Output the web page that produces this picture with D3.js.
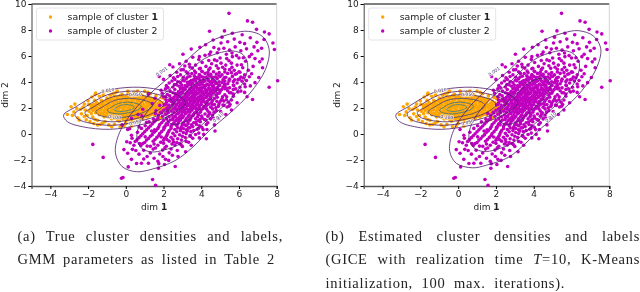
<!DOCTYPE html>
<html>
<head>
<meta charset="utf-8">
<script src="https://cdn.jsdelivr.net/npm/d3@7"></script>
<style>
  html, body { margin: 0; padding: 0; background: #fff; }
  svg { display: block; }
  text { font-family: "DejaVu Sans", sans-serif; }
</style>
</head>
<body>
<div id="container"></div>
<script>
// values, data coordinates of the two panels
var xTicks = [-4, -2, 0, 2, 4, 6, 8];
var yTicks = [-4, -2, 0, 2, 4, 6, 8, 10];
var legendNames = ["sample of cluster ", "sample of cluster "];
var legendNums = ["1", "2"];

var orangeSparse = [[-3.1,1.5],[-2.9,2.1],[-2.75,1.7],[-2.55,1.25],[-2.4,1.9],[-2.35,1.55],[-2.2,2.3],[-2.1,1.1],[-2,2.55],[-1.95,1.75],[-1.9,.95],[-1.8,2.85],[-1.75,1.3],[-1.7,.8],[-1.6,3.15],[-1.5,1.05],[-1.4,2.9],[-1.35,.75],[-1.2,3.0],[-1.1,.95],[-.95,3.3],[-.9,.7],[-.7,3.1],[-.6,.75],[-.45,3.3],[-.3,.55],[-.2,3.05],[0,.8],[.1,3.3],[.3,.6],[.45,3.2],[.6,.9],[.8,3.05],[1,3.3],[1.3,3.1],[1.5,1],[1.6,2.95],[1.85,1.25],[1.9,2.8],[2.1,1.55],[2.2,2.55],[2.35,1.9],[2.5,2.3],[-2.6,1.95],[-2.2,1.35],[-2.15,1.85],[-1.85,2.2],[-2.7,2.3],[-1.65,2.6],[-1.5,.7],[-.75,.55],[-2.83,1.43],[-2.47,1.07],[-2.27,2.07],[-1.97,2.27],[-1.83,1.57],[-1.63,3.03],[-2.05,1.42],[-1.62,1.12],[-1.23,.83],[-1.18,3.22],[-.83,2.98],[-.55,3.18],[-.1,.62],[.13,3.12],[.62,3.31],[1.17,3.2],[1.72,1.12],[2.03,2.72],[2.27,2.12]];
var orangeDense = [[-.6,2.9],[-.3,2.95],[0,2.88],[.3,2.93],[.6,2.86],[.9,2.9],[1.2,2.84],[-1,2.76],[-.75,2.72],[-.45,2.78],[-.15,2.73],[.15,2.77],[.45,2.72],[.75,2.75],[1.05,2.7],[1.35,2.74],[1.6,2.68],[-1.3,2.6],[-1.05,2.56],[-.8,2.6],[-.5,2.55],[-.2,2.6],[.1,2.56],[.4,2.6],[.7,2.55],[1,2.59],[1.3,2.54],[1.55,2.58],[1.8,2.52],[-1.55,2.44],[-1.3,2.4],[-1,2.44],[-.7,2.39],[-.4,2.43],[-.1,2.38],[.2,2.43],[.5,2.39],[.8,2.42],[1.1,2.38],[1.4,2.42],[1.7,2.37],[1.95,2.4],[-1.7,2.28],[-1.4,2.24],[-1.15,2.28],[-.85,2.23],[-.55,2.27],[-.25,2.22],[.05,2.27],[.35,2.23],[.65,2.27],[.95,2.22],[1.25,2.26],[1.55,2.22],[1.85,2.26],[2.1,2.2],[-1.8,2.12],[-1.55,2.08],[-1.25,2.12],[-.95,2.07],[-.65,2.11],[-.35,2.06],[-.05,2.11],[.25,2.07],[.55,2.1],[.85,2.06],[1.15,2.1],[1.45,2.06],[1.75,2.1],[2,2.04],[-1.85,1.96],[-1.6,1.92],[-1.3,1.96],[-1,1.91],[-.7,1.95],[-.4,1.9],[-.1,1.95],[.2,1.91],[.5,1.95],[.8,1.9],[1.1,1.94],[1.4,1.9],[1.7,1.94],[1.95,1.9],[-1.75,1.8],[-1.45,1.76],[-1.15,1.8],[-.85,1.75],[-.55,1.79],[-.25,1.74],[.05,1.79],[.35,1.75],[.65,1.79],[.95,1.74],[1.25,1.78],[1.55,1.74],[1.85,1.78],[-1.6,1.64],[-1.3,1.6],[-1,1.64],[-.7,1.59],[-.4,1.63],[-.1,1.58],[.2,1.63],[.5,1.59],[.8,1.63],[1.1,1.58],[1.4,1.62],[1.7,1.58],[-1.4,1.48],[-1.15,1.44],[-.85,1.48],[-.55,1.43],[-.25,1.47],[.05,1.42],[.35,1.47],[.65,1.43],[.95,1.47],[1.25,1.42],[1.5,1.46],[-1.15,1.32],[-.9,1.28],[-.6,1.32],[-.3,1.27],[0,1.31],[.3,1.26],[.6,1.31],[.9,1.27],[1.15,1.3],[-.75,1.15],[-.45,1.12],[-.15,1.16],[.15,1.1],[.45,1.15],[.75,1.11],[-.35,.98],[0,1],[.3,.95]];
var orangeFill = [[-.45,2.85],[-.15,2.82],[.15,2.85],[.45,2.8],[.75,2.83],[1.05,2.8],[-.9,2.66],[-.6,2.64],[-.3,2.68],[0,2.65],[.3,2.68],[.6,2.64],[.9,2.67],[1.2,2.63],[1.45,2.66],[-1.2,2.5],[-.9,2.48],[-.6,2.5],[-.3,2.47],[0,2.5],[.3,2.47],[.6,2.5],[.9,2.46],[1.2,2.49],[1.5,2.46],[-1.5,2.34],[-1.2,2.32],[-.9,2.34],[-.6,2.31],[-.3,2.34],[0,2.31],[.3,2.34],[.6,2.31],[.9,2.34],[1.2,2.3],[1.5,2.33],[1.8,2.3],[-1.6,2.18],[-1.3,2.16],[-1,2.18],[-.7,2.15],[-.4,2.18],[-.1,2.15],[.2,2.18],[.5,2.15],[.8,2.18],[1.1,2.15],[1.4,2.17],[1.7,2.15],[-1.7,2.02],[-1.4,2],[-1.1,2.02],[-.8,1.99],[-.5,2.02],[-.2,1.99],[.1,2.02],[.4,1.99],[.7,2.02],[1,1.99],[1.3,2.01],[1.6,1.99],[1.85,2.02],[-1.6,1.86],[-1.3,1.84],[-1,1.86],[-.7,1.83],[-.4,1.86],[-.1,1.83],[.2,1.86],[.5,1.83],[.8,1.86],[1.1,1.83],[1.4,1.85],[1.7,1.83],[-1.45,1.7],[-1.15,1.68],[-.85,1.7],[-.55,1.67],[-.25,1.7],[.05,1.67],[.35,1.7],[.65,1.67],[.95,1.7],[1.25,1.67],[1.55,1.69],[-1.25,1.54],[-1,1.52],[-.7,1.54],[-.4,1.51],[-.1,1.54],[.2,1.51],[.5,1.54],[.8,1.51],[1.1,1.54],[1.35,1.51],[-1,1.4],[-.75,1.37],[-.45,1.4],[-.15,1.36],[.15,1.39],[.45,1.36],[.75,1.39],[1.05,1.36],[-.6,1.22],[-.3,1.2],[0,1.23],[.3,1.19],[.6,1.22],[.9,1.18]];

var purpleOuter = [[5.47,9.28],[6.45,8.7],[6.72,8.6],[4.44,7.9],[6.93,8.05],[7.35,7.85],[7.6,7.7],[7.8,7],[7.88,6.5],[8.05,4.1],[7.6,3.6],[6.72,2.65],[5.1,7.45],[5.65,7.75],[5.05,7],[4.67,6.65],[5.4,7.1],[5.75,7.3],[6.05,7.05],[6.3,6.95],[6.6,7.4],[6.95,7.05],[7.2,6.6],[7,6.4],[6.8,6.7],[6.4,6.55],[6.1,6.4],[5.8,6.7],[5.5,6.45],[5.2,6.6],[4.85,6.25],[4.5,6.3],[4.2,6.05],[3.9,5.95],[3.55,5.9],[3.2,5.6],[2.85,5.4],[2.5,5.15],[6.55,5.95],[6.85,5.8],[7.1,5.55],[7.25,5.1],[6.75,5.2],[6.35,5.6],[6,5.85],[5.65,5.95],[5.35,5.8],[5,5.85],[4.7,5.7],[4.4,5.65],[4.05,5.5],[3.7,5.3],[3.4,5.15],[3.05,4.95],[2.7,4.75],[2.35,4.5],[2,4.2],[6.5,4.9],[6.2,5.1],[5.9,5.3],[5.6,5.45],[5.3,5.3],[5.05,5.45],[4.8,5.25],[4.55,5.4],[4.25,5.2],[3.95,5.05],[3.65,4.85],[3.3,4.65],[7.05,4.35],[6.85,3.95],[6.55,4.4],[6.3,4.55],[6.05,4.75],[5.75,4.9],[5.5,4.95],[6.3,3.2],[6.6,3.7],[5.9,2.4],[6.1,3.3],[5.6,1.85],[5.3,1.5],[4.9,1.2],[5.2,2.2],[5.7,2.9],[4.7,.7],[4.3,.35],[3.9,-.3],[-1.75,-.8],[-1.2,-1.8],[-.23,-3.4],[-.15,-3.35],[1.42,-3.5],[1.58,-3.95],[2.62,-2.5],[1.2,-2.25],[.83,-2.25],[.3,-1.95],[-.1,-1.2],[.05,-.6],[.3,-.1],[.1,.35],[2.05,-2.35],[1.7,-2.1]];
var purpleCore = [[3.9,5.02],[4.4,4.95],[4.9,5.05],[5.25,4.98],[2.9,4.55],[3.5,4.65],[3.9,4.58],[4.2,4.66],[4.5,4.6],[4.8,4.62],[5.1,4.55],[5.4,4.66],[5.8,4.6],[2.6,4.2],[3.2,4.25],[3.6,4.18],[3.85,4.28],[4.1,4.16],[4.35,4.24],[4.6,4.18],[4.85,4.26],[5.15,4.16],[5.5,4.22],[5.95,4.18],[6.4,4.12],[2.3,3.92],[2.9,3.95],[3.3,3.86],[3.55,3.94],[3.8,3.88],[4.05,3.96],[4.3,3.85],[4.55,3.93],[4.8,3.88],[5.1,3.95],[5.4,3.86],[5.9,3.92],[6.3,3.85],[2.5,3.62],[3,3.55],[3.25,3.66],[3.5,3.58],[3.7,3.64],[3.95,3.55],[4.15,3.63],[4.4,3.56],[4.6,3.65],[4.85,3.57],[5.15,3.62],[5.5,3.55],[6.05,3.6],[2.35,3.3],[2.8,3.26],[3.05,3.35],[3.3,3.25],[3.5,3.33],[3.7,3.27],[3.9,3.36],[4.1,3.25],[4.3,3.32],[4.5,3.26],[4.75,3.34],[5,3.27],[5.4,3.33],[5.95,3.24],[2.2,3.04],[2.65,2.98],[2.9,3.06],[3.15,2.96],[3.35,3.04],[3.55,2.98],[3.75,3.06],[3.95,2.96],[4.15,3.04],[4.35,2.97],[4.55,3.05],[4.8,2.97],[5.25,3.02],[5.7,3.08],[2.4,2.72],[2.7,2.66],[2.95,2.74],[3.15,2.67],[3.35,2.75],[3.55,2.66],[3.75,2.73],[3.95,2.67],[4.15,2.75],[4.4,2.66],[4.7,2.73],[5.1,2.68],[5.6,2.62],[2.15,2.42],[2.55,2.36],[2.8,2.44],[3,2.37],[3.2,2.45],[3.4,2.36],[3.6,2.43],[3.8,2.37],[4,2.45],[4.25,2.36],[4.55,2.42],[4.95,2.38],[5.45,2.44],[2.3,2.12],[2.6,2.06],[2.85,2.14],[3.05,2.07],[3.25,2.15],[3.45,2.06],[3.65,2.13],[3.9,2.07],[4.15,2.14],[4.5,2.06],[4.9,2.12],[2,1.82],[2.4,1.76],[2.7,1.84],[2.9,1.77],[3.1,1.85],[3.3,1.76],[3.5,1.83],[3.75,1.77],[4,1.84],[4.35,1.76],[4.8,1.8],[2.1,1.52],[2.45,1.46],[2.7,1.54],[2.95,1.47],[3.15,1.55],[3.35,1.46],[3.6,1.53],[3.85,1.47],[4.2,1.54],[4.6,1.46],[1.7,1.22],[2.15,1.16],[2.5,1.24],[2.75,1.17],[3,1.25],[3.2,1.16],[3.45,1.23],[3.7,1.17],[4.05,1.24],[4.5,1.16],[1.5,.92],[1.9,.86],[2.25,.94],[2.55,.87],[2.8,.95],[3.05,.86],[3.3,.93],[3.6,.87],[3.95,.94],[4.35,.86],[1.3,.62],[1.75,.56],[2.1,.64],[2.4,.57],[2.7,.65],[2.95,.56],[3.2,.63],[3.55,.57],[3.9,.64],[1.1,.32],[1.6,.26],[2,.34],[2.3,.27],[2.6,.35],[2.9,.26],[3.2,.33],[3.6,.27],[4.1,.34],[.9,.02],[1.4,-.05],[1.8,.04],[2.2,-.03],[2.5,.05],[2.85,-.06],[3.2,.03],[3.7,-.04],[.7,-.28],[1.2,-.35],[1.65,-.26],[2.05,-.34],[2.4,-.25],[2.75,-.36],[3.15,-.27],[3.55,-.33],[.5,-.58],[1,-.65],[1.45,-.56],[1.85,-.64],[2.3,-.55],[2.7,-.66],[3.2,-.57],[.8,-.88],[1.3,-.95],[1.7,-.86],[2.15,-.94],[2.6,-.85],[3,-.96],[.35,-1.18],[.95,-1.25],[1.45,-1.16],[1.95,-1.24],[2.4,-1.15],[.1,-1.48],[.7,-1.55],[1.3,-1.46],[1.8,-1.54],[2.3,-1.45],[.95,-1.92],[1.5,-1.86],[2.1,-1.95],[1.75,-2.28]];
var purpleFill = [[3.2,4.78],[3.7,4.72],[4.05,4.8],[4.35,4.74],[4.65,4.79],[4.95,4.72],[5.25,4.77],[5.6,4.72],[6,4.78],[2.75,4.42],[3.05,4.36],[3.4,4.44],[3.7,4.37],[4,4.43],[4.25,4.36],[4.5,4.44],[4.75,4.38],[5,4.42],[5.3,4.36],[5.65,4.43],[6.1,4.38],[2.45,4.08],[2.75,4.02],[3.1,4.09],[3.4,4.03],[3.7,4.08],[3.95,4.02],[4.2,4.09],[4.45,4.03],[4.7,4.07],[4.95,4.02],[5.25,4.08],[5.7,4.03],[6.15,4.07],[2.15,3.72],[2.7,3.78],[3.15,3.72],[3.4,3.78],[3.65,3.73],[3.9,3.79],[4.15,3.72],[4.4,3.77],[4.65,3.72],[4.95,3.78],[5.25,3.73],[5.7,3.77],[2.1,3.47],[2.6,3.42],[2.9,3.48],[3.15,3.43],[3.4,3.48],[3.6,3.42],[3.8,3.47],[4,3.43],[4.2,3.49],[4.4,3.42],[4.65,3.47],[4.9,3.43],[5.25,3.48],[5.7,3.42],[2.5,3.17],[2.75,3.12],[3,3.18],[3.2,3.13],[3.45,3.18],[3.65,3.12],[3.85,3.17],[4.05,3.13],[4.25,3.19],[4.45,3.12],[4.65,3.17],[4.95,3.13],[5.5,3.17],[2.1,2.87],[2.55,2.83],[2.8,2.88],[3.05,2.83],[3.25,2.87],[3.45,2.82],[3.65,2.88],[3.85,2.83],[4.05,2.87],[4.25,2.82],[4.5,2.88],[4.85,2.83],[5.35,2.87],[2.3,2.57],[2.6,2.53],[2.85,2.58],[3.05,2.53],[3.25,2.57],[3.45,2.52],[3.65,2.58],[3.85,2.53],[4.1,2.57],[4.3,2.52],[4.6,2.57],[5.2,2.53],[2.1,2.27],[2.45,2.23],[2.7,2.28],[2.95,2.23],[3.15,2.27],[3.35,2.22],[3.55,2.28],[3.75,2.23],[4,2.27],[4.3,2.22],[4.7,2.27],[5.15,2.23],[2.2,1.97],[2.5,1.93],[2.8,1.98],[3,1.93],[3.2,1.97],[3.4,1.92],[3.6,1.98],[3.85,1.93],[4.1,1.97],[4.6,1.93],[1.85,1.67],[2.25,1.63],[2.55,1.68],[2.8,1.63],[3,1.67],[3.2,1.62],[3.4,1.68],[3.65,1.63],[3.95,1.67],[4.45,1.63],[1.95,1.37],[2.3,1.33],[2.6,1.38],[2.85,1.33],[3.05,1.37],[3.3,1.32],[3.5,1.38],[3.8,1.33],[4.35,1.37],[1.6,1.07],[2,1.03],[2.35,1.08],[2.65,1.03],[2.9,1.07],[3.15,1.02],[3.4,1.08],[3.85,1.03],[4.25,1.07],[1.4,.77],[1.8,.73],[2.15,.78],[2.45,.73],[2.75,.77],[3,.72],[3.3,.78],[3.75,.73],[1.2,.47],[1.7,.43],[2.05,.48],[2.4,.43],[2.75,.47],[3.05,.42],[3.4,.48],[3.85,.43],[1,.17],[1.5,.13],[1.9,.18],[2.25,.13],[2.7,.17],[3.05,.12],[3.45,.18],[.8,-.13],[1.3,-.17],[1.75,-.12],[2.15,-.18],[2.6,-.13],[3,-.17],[3.4,-.12],[.6,-.43],[1.1,-.47],[1.55,-.42],[2,-.48],[2.5,-.43],[2.95,-.47],[.9,-.73],[1.5,-.77],[2,-.72],[2.45,-.77],[2.85,-.73]];
var purpleScatter = [[2.63,1.31],[2.88,1.12],[3.12,.71],[3.38,1.08],[3.57,1.42],[3.78,1.62],[4.02,1.38],[4.28,1.92],[3.47,2.01],[3.13,1.73],[2.78,1.58],[2.48,1.12],[2.22,.72],[2.03,.51],[2.57,.78],[2.91,.43],[3.26,.24],[3.48,.71],[3.72,.92],[3.93,1.13],[4.17,1.12],[4.42,1.52],[4.68,1.68],[4.58,2.23],[4.83,2.51],[4.77,2.02],[4.41,2.31],[4.13,2.48],[3.87,2.22],[3.68,2.47],[3.52,2.19],[3.28,2.32],[3.08,2.21],[2.88,2.33],[2.67,2.19],[2.43,2.48],[2.21,1.72],[2.63,1.92],[2.97,1.98],[3.33,1.87],[3.73,1.97],[4.23,2.02],[4.48,2.72],[4.27,2.88],[4.03,2.77],[3.83,2.58],[3.58,2.77],[3.37,2.61],[3.18,2.83],[2.98,2.61],[2.73,2.83],[2.52,2.68],[2.33,2.93],[2.62,3.12],[2.93,3.23],[3.23,3.08],[3.53,3.18],[3.78,3.12],[4.02,3.23],[4.33,3.13],[4.58,3.37],[4.87,3.13],[5.08,3.42],[4.73,3.51],[4.47,3.48],[4.24,3.38],[4.07,3.58],[3.83,3.47],[3.63,3.53],[3.37,3.39],[3.13,3.53],[2.83,3.67],[2.58,3.81],[2.97,3.77],[3.27,3.97],[3.47,3.82],[3.77,3.72],[4.02,3.84],[4.23,3.71],[4.52,3.82],[4.73,3.97],[4.97,3.73],[5.23,3.87],[4.62,4.08],[4.38,4.12],[4.13,4.03],[3.93,4.16],[3.73,4.22],[3.47,4.12],[3.28,4.38],[3.03,4.13],[3.63,4.47],[3.87,4.42],[4.13,4.37],[4.37,4.52],[4.62,4.37],[4.93,4.48],[5.22,4.32],[5.47,4.07],[5.73,3.72],[5.33,3.53],[5.58,3.17],[5.13,2.87],[5.03,2.53],[5.33,2.63],[4.93,2.23],[5.37,2.08],[5.03,1.73],[4.63,1.23],[4.27,.73],[4.03,.52],[3.78,.37],[3.43,-.18],[3.33,-.63],[2.93,-.83],[2.53,-.62],[2.18,-.42],[1.88,-.23],[1.53,.33],[1.37,.23],[1.03,-.22],[.73,-.73],[1.13,-.93],[1.57,-1.08],[2.07,-1.07],[2.73,-1.27],[2.47,-1.63],[1.97,-1.73],[1.13,-1.73],[.53,-1.27],[.43,-.87],[.33,-.33],[.62,.13],[.83,.43],[1.03,.63],[1.23,.93],[1.47,1.13],[1.73,1.43],[1.57,1.57],[1.88,1.63],[2.13,1.92],[2.27,2.23],[2.03,2.23],[2.13,2.63],[1.93,3.13],[2.23,3.57],[1.87,3.37],[2.53,4.33],[2.93,4.93],[3.37,5.37],[3.87,5.73],[4.43,6.13],[4.93,6.53],[5.33,6.13],[5.63,6.23],[5.87,6.03],[6.23,5.87],[6.67,6.13],[6.13,5.33],[5.47,5.63],[5.13,5.13],[5.87,4.63],[6.23,4.33],[6.67,4.63],[7.23,5.77],[7.33,7.27],[6.17,7.63],[5.23,7.93],[3.93,6.67],[3.47,6.53],[3.03,6.13],[2.33,5.33],[1.77,4.43],[4.63,7.23],[4.23,6.87],[3.13,5.23],[4.47,5.07],[4.83,5.63],[4.03,4.83],[3.53,5.07],[5.63,5.13],[6.03,4.23],[5.77,4.17],[6.33,3.63],[5.83,3.47],[6.43,2.87],[5.53,2.27],[5.47,2.13],[4.13,-.03],[3.87,.07],[3.33,.47],[.23,-.67],[1.73,-2.63],[.57,-2.27],[.13,-2.53],[2.27,-2.03],[2.77,-1.73],[3.17,-1.37],[3.47,-.87],[4.27,-.37],[4.73,.23]];
// purple samples sitting on the orange cloud, only in the true labels panel
var purpleOverlapA = [[-.2,.7],[.3,1.2],[.85,1.4],[1.1,.9],[1.4,2.35],[1.6,1.8],[1.8,2.2],[1.2,3.05],[1.55,2.75],[2,2.85],[2.2,2],[.2,.4],[.7,.55],[.9,1.9],[.65,1.5]];

// contour rings, vertices
var orangeRings = [
  [[-3.3,1.45],[-2.64,2.1],[-1.2,3.25],[.4,3.6],[1.8,3.4],[2.9,2.87],[3.15,2.36],[2.2,1.33],[.75,.7],[-.85,.36],[-2.3,.56],[-3.1,.95]],
  [[-2.7,1.55],[-2.15,2.08],[-.99,3.01],[.31,3.3],[1.44,3.13],[2.33,2.7],[2.54,2.29],[1.77,1.46],[.59,.95],[-.7,.67],[-1.88,.83],[-2.53,1.15]],
  [[-2.16,1.65],[-1.73,2.06],[-.8,2.81],[.23,3.03],[1.13,2.9],[1.84,2.56],[2,2.23],[1.39,1.57],[.46,1.16],[-.58,.94],[-1.51,1.07],[-2.03,1.32]],
  [[-1.58,1.74],[-1.27,2.05],[-.6,2.58],[.14,2.74],[.79,2.65],[1.31,2.4],[1.42,2.17],[.98,1.69],[.31,1.4],[-.44,1.24],[-1.11,1.33],[-1.48,1.51]],
  [[-.98,1.85],[-.8,2.03],[-.39,2.35],[.05,2.45],[.45,2.39],[.75,2.24],[.82,2.1],[.56,1.81],[.15,1.64],[-.3,1.54],[-.7,1.6],[-.93,1.71]],
  [[-.61,1.91],[-.5,2.02],[-.26,2.21],[0,2.26],[.23,2.23],[.41,2.14],[.45,2.06],[.3,1.89],[.06,1.79],[-.21,1.73],[-.45,1.76],[-.58,1.83]]
];
var orangeRingColors = ["#4b1a6b", "#4b1a6b", "#47246f", "#3d3f7f", "#2f6f8c", "#35808f"];
var purpleInner = [[4.51,4.3],[4.76,4.16],[4.87,3.83],[4.81,3.32],[4.54,2.73],[4.19,2.22],[3.84,1.79],[3.54,1.36],[3.23,1.01],[2.83,.8],[2.55,.73],[2.3,.86],[2.18,1.21],[2.25,1.72],[2.52,2.31],[2.87,2.82],[3.22,3.25],[3.52,3.68],[3.83,4.03],[4.23,4.24]];
var purpleRingsA = [
  [[6.5,7.9],[7.25,7.5],[7.6,6.5],[7.4,4.95],[6.59,3.15],[5.53,1.62],[4.46,.31],[3.56,-1],[2.61,-2.05],[1.4,-2.7],[.55,-2.9],[-.2,-2.5],[-.55,-1.45],[-.34,.09],[.47,1.89],[1.53,3.42],[2.6,4.73],[3.5,6.04],[4.45,7.09],[5.66,7.74]],
  [[5.67,6.39],[6.21,6.11],[6.46,5.39],[6.32,4.27],[5.73,2.97],[4.97,1.87],[4.2,.93],[3.55,.07],[2.87,-.77],[2,-1.24],[1.38,-1.38],[.84,-1.1],[.59,-.34],[.74,.77],[1.33,2.07],[2.09,3.17],[2.86,4.11],[3.51,5.05],[4.19,5.81],[5.06,6.28]],
  purpleInner
];
var purpleRingsB = [
  [[6.35,7.95],[7.15,7.55],[7.55,6.55],[7.3,5],[6.5,3.25],[5.45,1.75],[4.4,.45],[3.55,-.75],[2.65,-1.8],[1.5,-2.4],[.75,-2.6],[-.1,-2.25],[-.45,-1.3],[-.25,.25],[.55,2],[1.6,3.55],[2.65,4.85],[3.55,6.1],[4.45,7.15],[5.6,7.78]],
  [[5.6,6.42],[6.15,6.12],[6.42,5.4],[6.27,4.3],[5.7,3],[4.95,1.92],[4.2,.98],[3.55,.12],[2.87,-.7],[2,-1.2],[1.35,-1.35],[.82,-1.05],[.57,-.3],[.72,.8],[1.32,2.1],[2.08,3.2],[2.85,4.15],[3.5,5.08],[4.18,5.85],[5,6.3]],
  purpleInner
];
var purpleRingColors = ["#4b1a6b", "#4b1a6b", "#47246f"];

var contourText = ["0.001", "0.010", "0.050", "0.100", "0.010", "0.050"];
var contourX = [1.9, -.95, .5, -.6, 4.9, .5];
var contourY = [4.8, 3.35, 3.05, 1.3, 1.3, .9];
var contourRot = [-35, -8, -3, 6, -40, -15];

// *..* marks the italic part of a caption line
var captionA = ["(a) True cluster densities and labels,", "GMM parameters as listed in Table 2"];
var captionB = ["(b) Estimated cluster densities and labels", "(GICE with realization time *T*=10, K-Means", "initialization, 100 max. iterations)."];

var width = 640, height = 292;
var top_y = 4, bottom_y = 186;

var svg = d3.select("div#container").append("svg")
  .attr("width", width)
  .attr("height", height)
  .attr("viewBox", "0 0 " + width + " " + height);

function draw_panel(left, right, ylabel_x, purple_rings, with_overlap) {
  var x = d3.scaleLinear().domain([-5, 8]).range([left, right]);
  var y = d3.scaleLinear().domain([-4, 10]).range([bottom_y, top_y]);
  var g = svg.append("g").style("filter", "blur(0.35px)");

  var fmt = function(d) { return String(d).replace("-", "\u2212"); };
  var ax = g.append("g").attr("transform", "translate(0," + bottom_y + ")")
    .call(d3.axisBottom(x).tickValues(xTicks).tickFormat(fmt).tickSize(3).tickPadding(2));
  var ay = g.append("g").attr("transform", "translate(" + left + ",0)")
    .call(d3.axisLeft(y).tickValues(yTicks).tickFormat(fmt).tickSize(3).tickPadding(2));
  ax.selectAll("text").style("font-size", "9px").style("fill", "#222");
  ay.selectAll("text").style("font-size", "9px").style("fill", "#222");
  ax.select(".domain").attr("stroke", "#555").attr("stroke-width", 1.3);
  ay.select(".domain").attr("stroke", "#555").attr("stroke-width", 1.1);

  // top and right spine
  g.append("line").attr("x1", left).attr("x2", right).attr("y1", top_y).attr("y2", top_y)
    .attr("stroke", "#555").attr("stroke-width", 1.3);
  g.append("line").attr("x1", right).attr("x2", right).attr("y1", top_y).attr("y2", bottom_y)
    .attr("stroke", "#ccc").attr("stroke-width", 0.8);

  var dots = function(data, color) {
    g.append("g").selectAll("circle").data(data).enter().append("circle")
      .attr("cx", function(d) { return x(d[0]); })
      .attr("cy", function(d) { return y(d[1]); })
      .attr("r", 1.8)
      .style("fill", color);
  };
  dots(orangeSparse, "#ffa500");
  dots(orangeDense, "#ffa500");
  dots(orangeFill, "#ffa500");
  dots(purpleOuter, "#bf00bf");
  dots(purpleCore, "#bf00bf");
  dots(purpleFill, "#bf00bf");
  dots(purpleScatter, "#bf00bf");
  if (with_overlap) dots(purpleOverlapA, "#bf00bf");

  var ring = d3.line()
    .x(function(d) { return x(d[0]); })
    .y(function(d) { return y(d[1]); })
    .curve(d3.curveCatmullRomClosed.alpha(0.5));
  var rings = function(data, colors) {
    g.append("g").selectAll("path").data(data).enter().append("path")
      .attr("d", ring)
      .style("fill", "none")
      .style("stroke", function(d, i) { return colors[i]; })
      .style("stroke-width", 0.8);
  };
  rings(orangeRings, orangeRingColors);
  rings(purple_rings, purpleRingColors);

  contourText.forEach(function(t, i) {
    g.append("text")
      .attr("transform", "translate(" + x(contourX[i]) + "," + y(contourY[i]) + ") rotate(" + contourRot[i] + ")")
      .attr("text-anchor", "middle").attr("dy", "0.35em")
      .style("font-size", "4.5px").style("fill", "#4a3a70")
      .style("paint-order", "stroke").style("stroke", "rgba(255,255,255,0.75)").style("stroke-width", 1.5)
      .text(t);
  });

  // legend
  var lx = left + 5, ly = 8;
  g.append("rect").attr("x", lx).attr("y", ly).attr("width", 127).attr("height", 32).attr("rx", 2)
    .style("fill", "#fff").style("fill-opacity", 0.85).style("stroke", "#ddd").style("stroke-width", 0.8);
  [ "#ffa500", "#bf00bf" ].forEach(function(c, i) {
    g.append("circle").attr("cx", lx + 14).attr("cy", ly + 9 + i * 14).attr("r", 1.7).style("fill", c);
    var t = g.append("text").attr("x", lx + 31).attr("y", ly + 12 + i * 14).style("font-size", "9.4px").style("fill", "#222");
    t.append("tspan").text(legendNames[i]);
    t.append("tspan").style("font-weight", i == 0 ? "bold" : "normal").text(legendNums[i]);
  });

  // axis labels
  var xl = g.append("text").attr("x", (left + right) / 2).attr("y", 210).attr("text-anchor", "middle")
    .style("font-size", "9px").style("fill", "#222");
  xl.append("tspan").text("dim ");
  xl.append("tspan").style("font-weight", "bold").text("1");
  g.append("text").attr("transform", "translate(" + ylabel_x + ",95) rotate(-90)").attr("text-anchor", "middle")
    .style("font-size", "9px").style("fill", "#222").text("dim 2");
}

draw_panel(31.5, 276.7, 7.5, purpleRingsA, true);
draw_panel(363.7, 609.3, 339.5, purpleRingsB, false);

// captions, stretched by word gaps to the column like the typeset text
function caption(lines, x0, x1s) {
  lines.forEach(function(s, i) {
    var t = svg.append("text").attr("x", x0).attr("y", 241 + i * 23.4)
      .style("font-family", "'Liberation Serif', serif").style("font-size", "14.5px")
      .style("fill", "#222").style("letter-spacing", "0.7px").style("filter", "blur(0.3px)");
    s.split("*").forEach(function(part, j) {
      t.append("tspan").style("font-style", j % 2 ? "italic" : "normal").text(part);
    });
    var gaps = s.split(" ").length - 1;
    var w = t.node().getComputedTextLength();
    t.style("word-spacing", ((x1s[i] - x0 - w) / gaps) + "px");
  });
}
caption(captionA, 17.5, [283, 275]);
caption(captionB, 325.5, [640, 640, 565]);
</script>
</body>
</html>
